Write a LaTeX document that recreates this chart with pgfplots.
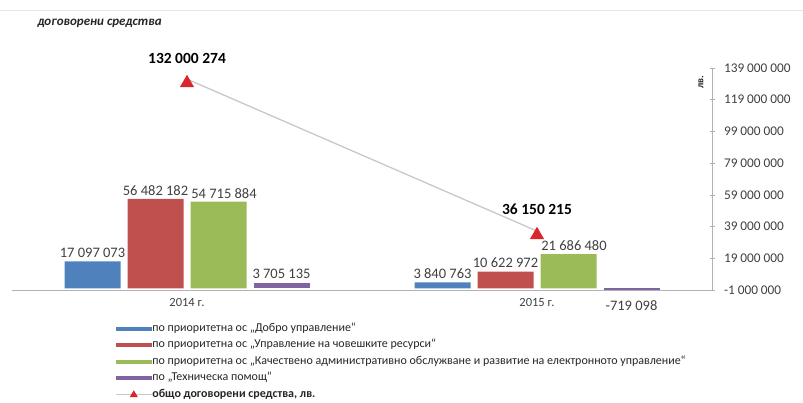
\documentclass[border=0pt]{standalone}
\usepackage{pgfplots}
\pgfplotsset{compat=1.18}
\usepackage{fontspec}
\setmainfont{Carlito}
\definecolor{cblue}{HTML}{4F81BD}
\definecolor{cred}{HTML}{C0504D}
\definecolor{cgreen}{HTML}{9BBB59}
\definecolor{cpurple}{HTML}{8064A2}
\definecolor{lgray}{HTML}{C8C8C8}
\definecolor{tred}{HTML}{D8262C}
\definecolor{lbl}{HTML}{404040}
\begin{document}
\begin{tikzpicture}
\useasboundingbox (0pt,0pt) rectangle (803pt,-403pt);
\draw[gray!20] (0pt,-10pt) -- (803pt,-10pt);
\node[font=\bfseries\itshape\fontsize{13}{15}\selectfont, anchor=west, text=black!85] at (34pt,-23pt) {договорени средства};
\node[font=\bfseries\fontsize{10}{12}\selectfont, rotate=90, text=black!85] at (701pt,-82pt) {лв.};
\begin{axis}[
  at={(12pt,-290pt)}, anchor=south west,
  width=700pt, height=222pt, scale only axis,
  xmin=-0.5, xmax=1.5,
  ymin=-1000000, ymax=139000000,
  axis x line*=bottom, axis y line*=right,
  axis line style={draw=black!30, line width=0.8pt},
  xtick={0,1}, xticklabels={2014 г., 2015 г.},
  xtick style={draw=none},
  xticklabel style={font=\fontsize{12.5}{14}\selectfont, text=lbl, yshift=-2pt},
  ytick={-1000000,19000000,39000000,59000000,79000000,99000000,119000000,139000000},
  scaled y ticks=false,
  ytick style={draw=black!30, line width=0.6pt},
  tick align=center, major tick length=5pt,
  yticklabel style={font=\fontsize{13.3}{15}\selectfont, text=lbl, anchor=west, xshift=6pt,
    /pgf/number format/.cd, fixed, precision=0, 1000 sep={\hspace{0.22em}}, assume math mode=true},
  clip=false,
  nodes near coords style={font=\fontsize{14.5}{16}\selectfont, text=lbl},
  legend style={at={(0.143,-0.14)}, anchor=north west, draw=none, fill=none,
    font=\fontsize{12}{14}\selectfont, text=black!85,
    nodes={inner sep=0pt, text height=8pt, text depth=2.5pt}, row sep=6pt,
    /tikz/every even column/.append style={column sep=3pt}},
  legend cell align=left,
]
\addplot[ybar, bar width=56pt, bar shift=-94.5pt, fill=cblue, draw=none,
  nodes near coords, point meta=explicit symbolic,
  every node near coord/.append style={xshift=-94.5pt},
  legend image code/.code={\fill[cblue] (0pt,-2pt) rectangle (36pt,2pt);}]
  coordinates {(0,17097073) [17 097 073] (1,3840763) [3 840 763]};
\addlegendentry{по приоритетна ос „Добро управление“}
\addplot[ybar, bar width=56pt, bar shift=-31.5pt, fill=cred, draw=none,
  nodes near coords, point meta=explicit symbolic,
  every node near coord/.append style={xshift=-31.5pt},
  legend image code/.code={\fill[cred] (0pt,-2pt) rectangle (36pt,2pt);}]
  coordinates {(0,56482182) [56 482 182] (1,10622972) [10 622 972]};
\addlegendentry{по приоритетна ос „Управление на човешките ресурси“}
\addplot[ybar, bar width=56pt, bar shift=31.5pt, fill=cgreen, draw=none,
  nodes near coords, point meta=explicit symbolic,
  every node near coord/.append style={xshift=37pt},
  legend image code/.code={\fill[cgreen] (0pt,-2pt) rectangle (36pt,2pt);}]
  coordinates {(0,54715884) [54 715 884] (1,21686480) [21 686 480]};
\addlegendentry{по приоритетна ос „Качествено административно обслужване и развитие на електронното управление“}
\addplot[ybar, bar width=56pt, bar shift=94.5pt, fill=cpurple, draw=none,
  nodes near coords, point meta=explicit symbolic,
  every node near coord/.append style={xshift=94.5pt},
  legend image code/.code={\fill[cpurple] (0pt,-2pt) rectangle (36pt,2pt);}]
  coordinates {(0,3705135) [3 705 135]};
\addlegendentry{по „Техническа помощ“}
\addplot[ybar, bar width=56pt, bar shift=94.5pt, fill=cpurple, draw=none, forget plot,
  nodes near coords, point meta=explicit symbolic,
  every node near coord/.append style={xshift=94.5pt, anchor=north, yshift=-8pt}]
  coordinates {(1,-719098) [-719 098]};
\addplot[lgray, line width=1.3pt, mark=triangle*, mark size=7pt,
  mark options={fill=tred, draw=tred, yshift=-4pt},
  nodes near coords, point meta=explicit symbolic,
  nodes near coords style={font=\bfseries\fontsize{15.5}{17}\selectfont, text=black, yshift=16pt},
  legend image code/.code={\draw[lgray, line width=1pt] (0pt,0pt) -- (36pt,0pt);
     \fill[tred] (15pt,-2pt) -- (21pt,-2pt) -- (18pt,3pt) -- cycle;}]
  coordinates {(0,132000274) [132 000 274] (1,36150215) [36 150 215]};
\addlegendentry{\textbf{общо договорени средства, лв.}}
\end{axis}
\end{tikzpicture}
\end{document}
